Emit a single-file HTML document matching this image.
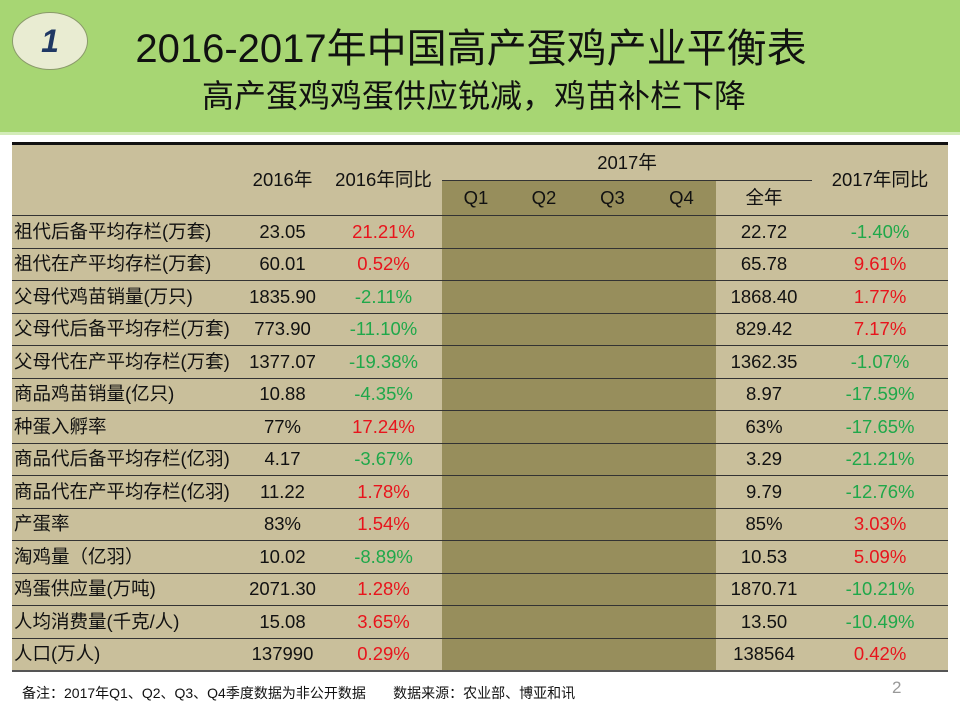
<!DOCTYPE html>
<html><head><meta charset="utf-8"><style>
body{margin:0;width:960px;height:720px;position:relative;background:#fff;font-family:"Liberation Sans","Noto Sans CJK SC",sans-serif;overflow:hidden}
.hdr{position:absolute;left:0;top:0;width:960px;height:132px;background:#a7d673;border-bottom:3px solid #d3ecb8}
.circ{position:absolute;left:12px;top:12px;width:74px;height:56px;border-radius:50%;background:#e9ecd2;border:1px solid #8a9a6a;display:flex;align-items:center;justify-content:center;font:italic bold 32px "Liberation Sans",sans-serif;color:#1f3864}
.t1{position:absolute;left:0;width:942px;top:24px;text-align:center;font-size:40px;line-height:50px;color:#111}
.t2{position:absolute;right:214px;top:76px;font-size:32px;line-height:40px;color:#111}
table{position:absolute;left:12px;top:142px;width:936px;border-collapse:collapse;background:#c9bf9b;font-size:18.5px;color:#111;table-layout:fixed}
table{border-top:3px solid #111;border-bottom:2px solid #555}
td{padding:0;text-align:center;height:31.5px;line-height:18px;border-bottom:1px solid #333;white-space:nowrap;overflow:hidden;vertical-align:middle}
td.l{text-align:left;padding-left:2px}
.dk{background:#978e5c}
.r{color:#e8141c}.g{color:#1fa84a}
.hd td{border-bottom:none}
.foot{position:absolute;left:22px;top:683px;font-size:14px;color:#111}
.pg{position:absolute;left:892px;top:678px;font-size:17px;color:#999}
</style></head><body>
<div class="hdr"></div>
<div class="circ">1</div>
<div class="t1">2016-2017年中国高产蛋鸡产业平衡表</div>
<div class="t2">高产蛋鸡鸡蛋供应锐减，鸡苗补栏下降</div>
<table>
<colgroup><col style="width:228px"><col style="width:85px"><col style="width:117px"><col style="width:68px"><col style="width:68px"><col style="width:69px"><col style="width:69px"><col style="width:96px"><col style="width:136px"></colgroup>
<tr class="hd"><td rowspan="2" style="border-bottom:1px solid #333"></td><td rowspan="2" style="border-bottom:1px solid #333">2016年</td><td rowspan="2" style="border-bottom:1px solid #333">2016年同比</td><td colspan="5" style="height:35px;border-bottom:1px solid #333">2017年</td><td rowspan="2" style="border-bottom:1px solid #333">2017年同比</td></tr>
<tr><td class="dk" style="height:34px">Q1</td><td class="dk">Q2</td><td class="dk">Q3</td><td class="dk">Q4</td><td>全年</td></tr>
<tbody id="tb"></tbody>
</table>
<div class="foot">备注：2017年Q1、Q2、Q3、Q4季度数据为非公开数据 &nbsp; &nbsp; &nbsp; 数据来源：农业部、博亚和讯</div>
<div class="pg">2</div>
<script>
const labels=["祖代后备平均存栏(万套)","祖代在产平均存栏(万套)","父母代鸡苗销量(万只)","父母代后备平均存栏(万套)","父母代在产平均存栏(万套)","商品鸡苗销量(亿只)","种蛋入孵率","商品代后备平均存栏(亿羽)","商品代在产平均存栏(亿羽)","产蛋率","淘鸡量（亿羽）","鸡蛋供应量(万吨)","人均消费量(千克/人)","人口(万人)"];
const v2016=["23.05","60.01","1835.90","773.90","1377.07","10.88","77%","4.17","11.22","83%","10.02","2071.30","15.08","137990"];
const yoy2016=["21.21%","0.52%","-2.11%","-11.10%","-19.38%","-4.35%","17.24%","-3.67%","1.78%","1.54%","-8.89%","1.28%","3.65%","0.29%"];
const v2017=["22.72","65.78","1868.40","829.42","1362.35","8.97","63%","3.29","9.79","85%","10.53","1870.71","13.50","138564"];
const yoy2017=["-1.40%","9.61%","1.77%","7.17%","-1.07%","-17.59%","-17.65%","-21.21%","-12.76%","3.03%","5.09%","-10.21%","-10.49%","0.42%"];
const tb=document.getElementById('tb');
labels.forEach((lab,i)=>{
const tr=document.createElement('tr');


const c=s=>s.trim().startsWith('-')?'g':'r';
tr.innerHTML=`<td class="l">${lab}</td><td>${v2016[i]}</td><td class="${c(yoy2016[i])}">${yoy2016[i]}</td><td class="dk"></td><td class="dk"></td><td class="dk"></td><td class="dk"></td><td>${v2017[i]}</td><td class="${c(yoy2017[i])}">${yoy2017[i]}</td>`;
tb.appendChild(tr);
});
</script>
</body></html>
